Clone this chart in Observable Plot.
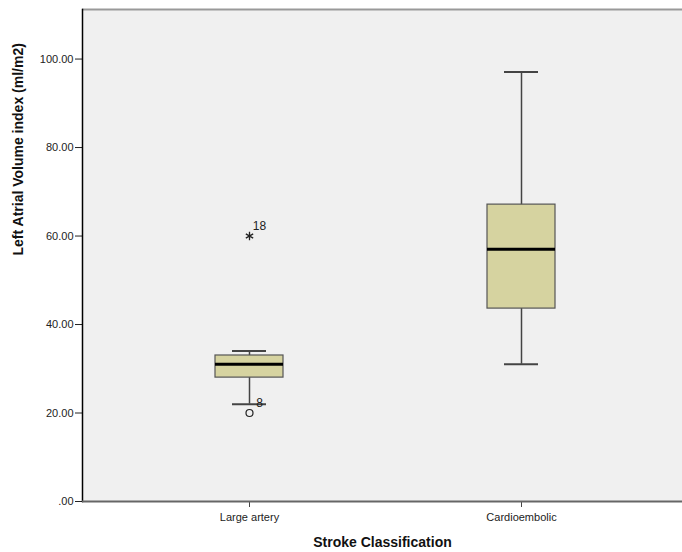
<!DOCTYPE html>
<html>
<head>
<meta charset="utf-8">
<script src="https://cdn.jsdelivr.net/npm/d3@7"></script>
<script src="https://cdn.jsdelivr.net/npm/@observablehq/plot@0.6"></script>
<style>
  html, body { margin: 0; padding: 0; background: #fff; }
  #chart svg { display: block; }
</style>
</head>
<body>
<div id="chart"></div>
<script>
// Data
const categories = ["Large artery", "Cardioembolic"];
const whiskerLow  = [22, 31];
const q1          = [28, 43.6];
const median      = [31, 57];
const q3          = [33, 67.1];
const whiskerHigh = [34, 97.1];
const outlierCategory = ["Large artery", "Large artery"];
const outlierValue    = [60, 20];
const outlierType     = ["extreme", "outlier"];
const outlierLabel    = ["18", "8"];
const yTicks = [0, 20, 40, 60, 80, 100];

const boxes = categories.map((c, i) => ({
  cat: c, lo: whiskerLow[i], q1: q1[i], med: median[i], q3: q3[i], hi: whiskerHigh[i]
}));
const outliers = outlierValue.map((v, i) => ({
  cat: outlierCategory[i], v, type: outlierType[i], label: outlierLabel[i]
}));

const font = "'Liberation Sans', Arial, sans-serif";

const chart = Plot.plot({
  width: 682,
  height: 552,
  marginTop: 9,
  marginBottom: 51,
  marginLeft: 82,
  marginRight: 0,
  style: { fontFamily: font, fontSize: "11px", color: "#222", background: "#fff" },
  x: { type: "band", domain: categories, paddingInner: 0.7505, paddingOuter: 0.4756, align: 0.5125, label: null },
  y: { domain: [0, 111.2], label: null },
  marks: [
    Plot.frame({ fill: "#f0f0f0", stroke: null }),
    Plot.ruleY([111.2], { stroke: "#999", strokeWidth: 2 }),
    // whisker stems
    Plot.ruleX(boxes, { x: "cat", y1: "lo", y2: "hi", stroke: "#444", strokeWidth: 1.5 }),
    // whisker caps
    Plot.tickY(boxes, { x: "cat", y: "lo", stroke: "#444", strokeWidth: 2, insetLeft: 17, insetRight: 17 }),
    Plot.tickY(boxes, { x: "cat", y: "hi", stroke: "#444", strokeWidth: 2, insetLeft: 17, insetRight: 17 }),
    // box
    Plot.barY(boxes, { x: "cat", y1: "q1", y2: "q3", fill: "#d6d3a0", stroke: "#555", strokeWidth: 1.2 }),
    // median
    Plot.tickY(boxes, { x: "cat", y: "med", stroke: "#000", strokeWidth: 3 }),
    // outliers
    Plot.dot(outliers.filter(d => d.type === "extreme"), { x: "cat", y: "v", symbol: "asterisk", r: 4, stroke: "#222", strokeWidth: 1.3 }),
    Plot.dot(outliers.filter(d => d.type === "outlier"), { x: "cat", y: "v", symbol: "circle", r: 3.5, stroke: "#222", strokeWidth: 1.2, fill: "none" }),
    Plot.text(outliers, { x: "cat", y: "v", text: "label", dx: 10, dy: -10, fontSize: 12, fill: "#222", textAnchor: "middle" }),
    // axes
    Plot.axisY({ ticks: yTicks, tickFormat: d => d === 0 ? ".00" : d.toFixed(2), tickSize: 7, tickPadding: 2, stroke: "#222", fontSize: 11, label: null }),
    Plot.axisX({ tickSize: 6, tickPadding: 6, stroke: "#444", fontSize: 11, label: null }),
    Plot.frame({ anchor: "left", stroke: "#000", strokeWidth: 1.5 }),
    Plot.ruleY([0], { stroke: "#666", strokeWidth: 2 }),
    // axis titles
    Plot.text(["Left Atrial Volume index (ml/m2)"], { frameAnchor: "left", dx: -64, rotate: -90, fontSize: 14, fontWeight: "bold", fill: "#111" }),
    Plot.text(["Stroke Classification"], { frameAnchor: "bottom", dy: 45, fontSize: 14, fontWeight: "bold", fill: "#111" })
  ]
});
document.getElementById("chart").appendChild(chart);
</script>
</body>
</html>
